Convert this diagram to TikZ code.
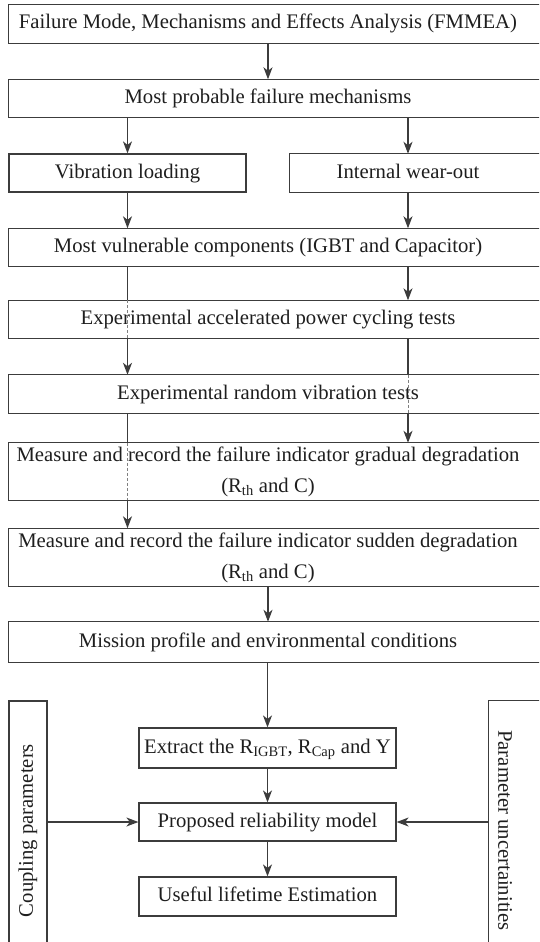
\documentclass[tikz,border=0pt]{standalone}
\usepackage{fontspec}
\setmainfont{Liberation Serif}
\usetikzlibrary{arrows.meta}
\definecolor{linegray}{HTML}{3C3C3C}
\definecolor{inkgray}{HTML}{1E1E1E}
\tikzset{
  box/.style={draw=linegray, line width=1.2pt, text=inkgray, inner sep=0pt, align=center, minimum height=38, text height=15, text depth=5},
  openbox/.style={text=inkgray, inner sep=0pt, align=center, minimum height=38, text height=15, text depth=5},
  twoline/.style={text=inkgray, inner sep=0pt, align=center, font=\fontsize{20.7}{31}\selectfont},
  frame/.style={draw=linegray, line width=1.2pt},
  arr/.style={-{Stealth[length=12pt,width=9pt,inset=3.5pt]}, draw=linegray, line width=1.3pt},
  thru/.style={densely dashed, draw=gray, line width=0.8pt},
}

\begin{document}
\begin{tikzpicture}[x=1pt,y=-1pt,font=\fontsize{20.7}{27}\selectfont]
    \useasboundingbox (0,0) rectangle (539,942);
    \clip (0,0) rectangle (539,942);
    % main column, boxes run off the right edge
    \node[openbox, minimum width=518] (fmmea) at (268,24) {Failure Mode, Mechanisms and Effects Analysis (FMMEA)};
    \node[openbox, minimum width=518] (mech) at (268,98.5) {Most probable failure mechanisms};
    \node[box, minimum width=237] (vib) at (127.5,173) {Vibration loading};
    \node[openbox, minimum width=236] (wear) at (408,173) {Internal wear-out};
    \node[openbox, minimum width=518] (comp) at (268,247.5) {Most vulnerable components (IGBT and Capacitor)};
    \node[openbox, minimum width=518] (pct) at (268,319.5) {Experimental accelerated power cycling tests};
    \node[openbox, minimum width=518] (rvt) at (268,394) {Experimental random vibration tests};
    \node[twoline, minimum width=518, minimum height=57] (grad) at (268,471.5) {Measure and record the failure indicator gradual degradation\\(R\textsubscript{th} and C)};
    \node[twoline, minimum width=518, minimum height=58] (sudden) at (268,557.5) {Measure and record the failure indicator sudden degradation\\(R\textsubscript{th} and C)};
    \node[openbox, minimum width=518, minimum height=40] (mission) at (268,642) {Mission profile and environmental conditions};
    % model part
    \node[box, minimum width=257, minimum height=40] (extract) at (267.5,748) {Extract the R\textsubscript{IGBT}, R\textsubscript{Cap} and Y};
    \node[box, minimum width=257] (model) at (267.5,822) {Proposed reliability model};
    \node[box, minimum width=257, minimum height=39] (life) at (267.5,896.5) {Useful lifetime Estimation};
    \node[draw=linegray, line width=1.2pt, text=inkgray, inner sep=0pt, minimum width=38, minimum height=259] (couple) at (28,830.5) {\rotatebox{90}{Coupling parameters}};
    \node[text=inkgray, inner sep=0pt, minimum width=32, minimum height=259] (param) at (505,830.5) {\rotatebox{-90}{Parameter uncertainities}};
    \foreach \n in {fmmea,mech,wear,comp,pct,rvt,grad,sudden,mission,param}
        \draw[frame] (\n.north west) rectangle ([xshift=60]\n.south east);

    \draw[arr] (fmmea) -- (mech);
    \draw[arr] (mech.south -| vib) -- (vib);
    \draw[arr] (mech.south -| wear) -- (wear);
    \draw[arr] (vib) -- (vib |- comp.north);
    \draw[arr] (wear) -- (wear |- comp.north);
    % lines passing through boxes
    \draw[frame] (comp.south -| vib) -- (pct.north -| vib);
    \draw[thru] (pct.north -| vib) -- (pct.south -| vib);
    \draw[arr] (pct.south -| vib) -- (rvt.north -| vib);
    \draw[arr] (comp.south -| wear) -- (pct.north -| wear);
    \draw[frame] (pct.south -| wear) -- (rvt.north -| wear);
    \draw[thru] (rvt.north -| wear) -- (rvt.south -| wear);
    \draw[arr] (rvt.south -| wear) -- (grad.north -| wear);
    \draw[frame] (rvt.south -| vib) -- (grad.north -| vib);
    \draw[thru] (grad.north -| vib) -- (grad.south -| vib);
    \draw[arr] (grad.south -| vib) -- (sudden.north -| vib);
    \draw[arr] (sudden) -- (mission);
    \draw[arr] (mission.south -| extract) -- (extract);
    \draw[arr] (extract) -- (model);
    \draw[arr] (model) -- (life);
    \draw[arr] (couple.east |- model) -- (model);
    \draw[arr] (param.west |- model) -- (model);
\end{tikzpicture}
\end{document}
